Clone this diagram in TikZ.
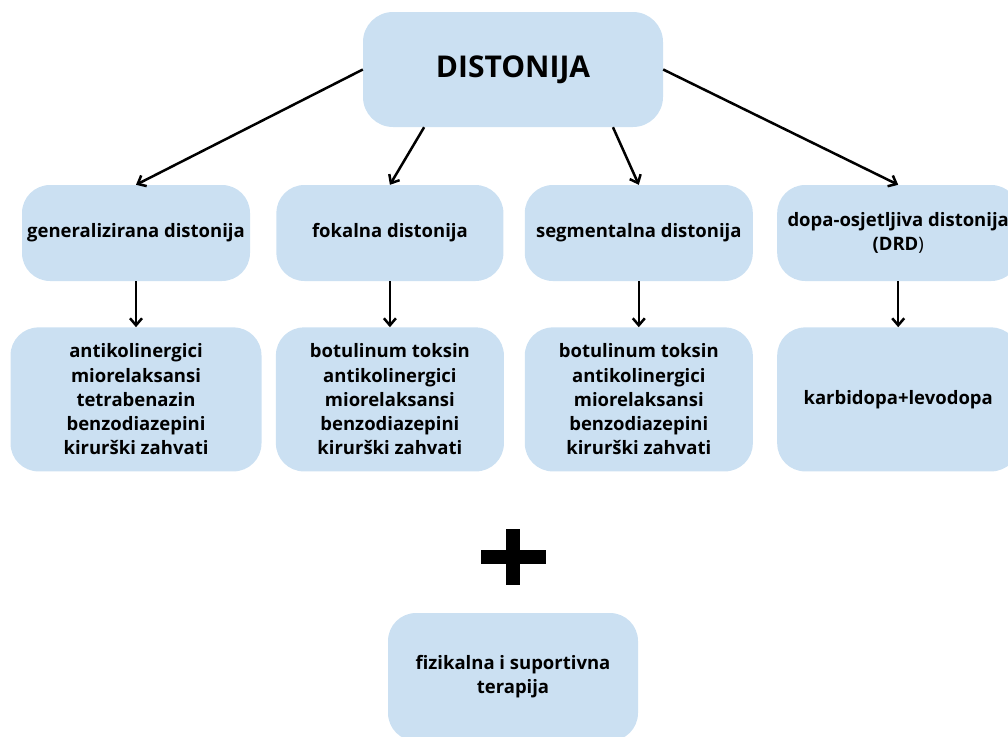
\documentclass[tikz,border=0pt]{standalone}
\usepackage{fontspec}
\setmainfont{Open Sans}
\usepackage{xcolor}
\usetikzlibrary{arrows.meta, positioning}
\definecolor{boxblue}{HTML}{CBE0F2}

\begin{document}
\begin{tikzpicture}[x=1pt, y=1pt, node distance=26pt,
      every node/.style={font=\bfseries\fontsize{18.5}{24.2}\selectfont},
      box/.style={fill=boxblue, rounded corners=28pt, minimum width=228pt, minimum height=96pt, align=center, inner sep=0pt},
      medbox/.style={box, minimum height=144pt},
      arr/.style={-{Straight Barb[length=7pt, width=12pt]}, line width=2.5pt}]
    \useasboundingbox (0,0) rectangle (1008,-736);
    \clip (0,0) rectangle (1008,-736);
    \node[box, minimum width=300pt, minimum height=115pt, rounded corners=30pt, font=\bfseries\fontsize{30}{36}\selectfont] (dist) at (513,-69.5) {DISTONIJA};
    % vrste distonije
    \node[box] (gen) at (136,-233) {generalizirana distonija};
    \node[box, right=26pt of gen, minimum width=227pt] (fok) {fokalna distonija};
    \node[box, right=21pt of fok] (seg) {segmentalna distonija};
    \node[box, right=24pt of seg, minimum width=242pt] (drd) {dopa-osjetljiva distonija\\(DRD{\mdseries)}};
    % terapija
    \node[medbox, below=46pt of gen, minimum width=251pt] (genlek) {antikolinergici\\miorelaksansi\\tetrabenazin\\benzodiazepini\\kirurški zahvati};
    \node[medbox, below=46pt of fok] (foklek) {botulinum toksin\\antikolinergici\\miorelaksansi\\benzodiazepini\\kirurški zahvati};
    \node[medbox, below=46pt of seg] (seglek) {botulinum toksin\\antikolinergici\\miorelaksansi\\benzodiazepini\\kirurški zahvati};
    \node[medbox, below=46pt of drd, minimum width=242pt] (drdlek) {karbidopa+levodopa};
    \draw[arr] (dist.west) -- (gen.north);
    \draw[arr] (dist.213) -- (fok.north);
    \draw[arr] (dist.330) -- (seg.north);
    \draw[arr] (dist.east) -- (drd.north);
    \foreach \n in {gen, fok, seg, drd}
      \draw[arr] (\n.south) -- (\n lek.north);
    % plus
    \fill (506,-529) rectangle (520,-585);
    \fill (481,-550) rectangle (546,-564);
    \node[box, minimum width=250pt, minimum height=128pt] (fiz) at (513,-677) {fizikalna i suportivna\\terapija};
  \end{tikzpicture}
\end{document}
